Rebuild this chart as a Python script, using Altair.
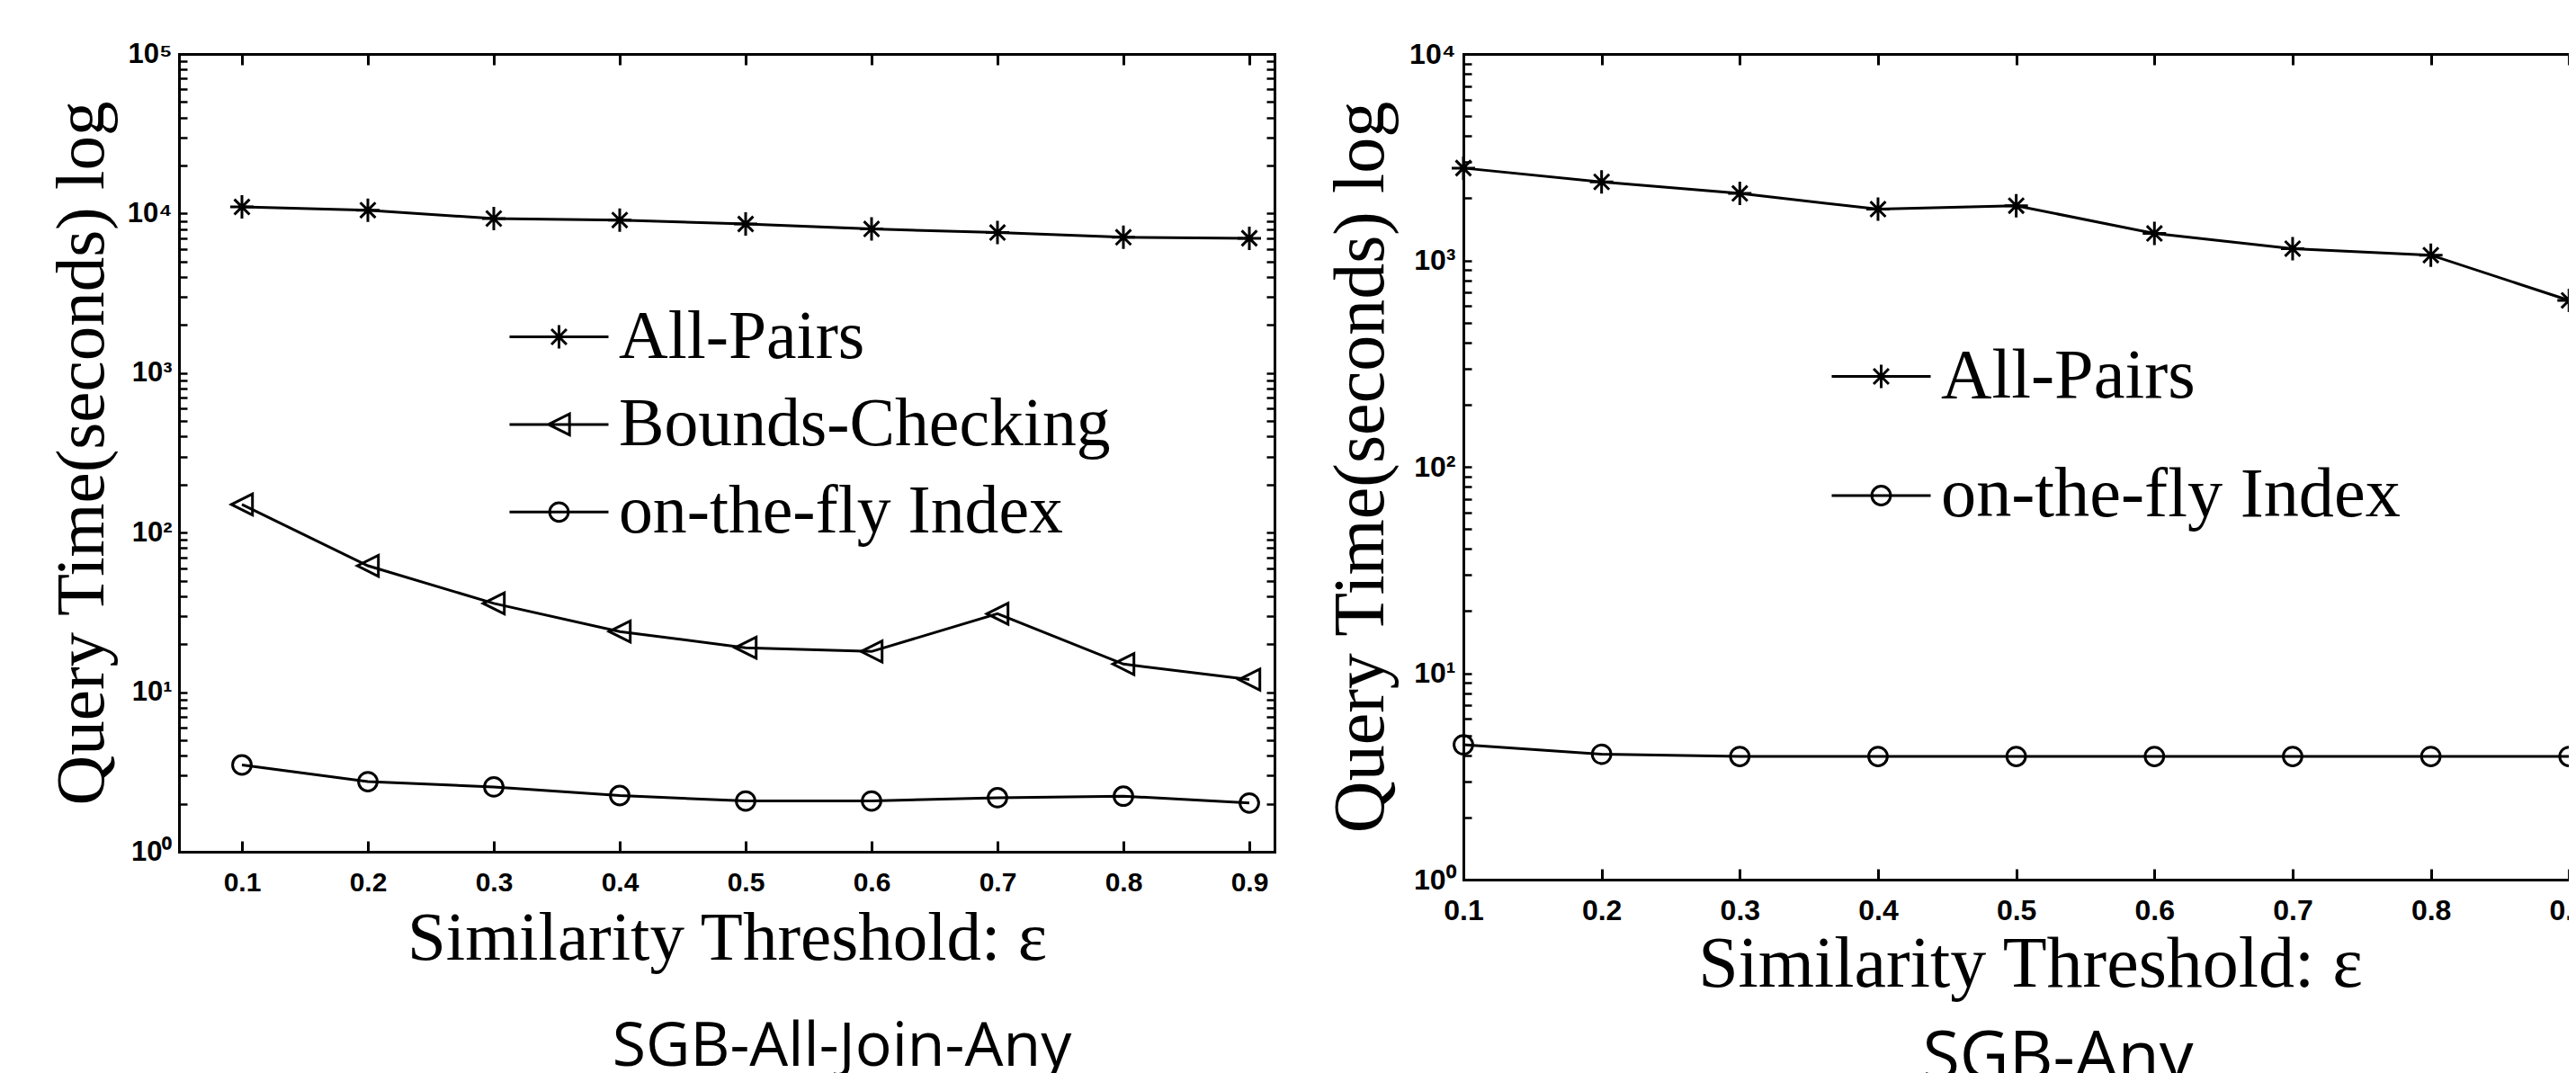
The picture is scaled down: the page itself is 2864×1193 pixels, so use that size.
import altair as alt
import pandas as pd

# ---------------- data ----------------
x_vals = [0.1, 0.2, 0.3, 0.4, 0.5, 0.6, 0.7, 0.8, 0.9]

left_series = ["All-Pairs", "Bounds-Checking", "on-the-fly Index"]
left_all_pairs = [11000, 10500, 9300, 9100, 8600, 8000, 7600, 7100, 7000]
left_bounds = [150, 62, 36, 24, 19, 18, 31, 15, 12]
left_index = [3.5, 2.75, 2.55, 2.25, 2.08, 2.08, 2.18, 2.23, 2.02]

right_series = ["All-Pairs", "on-the-fly Index"]
right_all_pairs = [2800, 2400, 2110, 1770, 1840, 1350, 1140, 1060, 640]
right_index = [4.5, 4.05, 3.95, 3.95, 3.95, 3.95, 3.95, 3.95, 3.95]

y_major = [1, 10, 100, 1000, 10000, 100000]
y_major_labels = ["10⁰", "10¹", "10²", "10³", "10⁴", "10⁵"]
minor_mult = [2, 3, 4, 5, 6, 7, 8, 9]

# ---------------- marker shapes (unit paths) ----------------
STAR = "M-1,0L1,0M0,-1L0,1M-0.65,-0.65L0.65,0.65M-0.65,0.65L0.65,-0.65"
TRI = "M-0.9,0L0.9,-0.9L0.9,0.9Z"
CIRC = "M0.8,0A0.8,0.8,0,1,1,-0.8,0A0.8,0.8,0,1,1,0.8,0Z"
k = 13 / 55.0
LSTAR = ("M-1,0L1,0M0,-{a}L0,{a}M-{b},-{b}L{b},{b}M-{b},{b}L{b},-{b}"
         .format(a=round(k, 4), b=round(0.65 * k, 4)))
LTRI = "M-1,0L1,0M-{a},0L{a},-{a}L{a},{a}Z".format(a=round(0.9 * k, 4))
LCIRC = "M-1,0L1,0M{r},0A{r},{r},0,1,1,-{r},0A{r},{r},0,1,1,{r},0Z".format(r=round(0.8 * k, 4))

marker_of = {"All-Pairs": STAR, "Bounds-Checking": TRI, "on-the-fly Index": CIRC}
legend_of = {"All-Pairs": LSTAR, "Bounds-Checking": LTRI, "on-the-fly Index": LCIRC}


def long_df(series, columns):
    rows = []
    for name, vals in zip(series, columns):
        for xv, v in zip(x_vals, vals):
            rows.append({"x": xv, "value": v, "series": name})
    return pd.DataFrame(rows)


def y_ticks(top):
    vals = []
    for m in y_major:
        if m <= top:
            vals.append(m)
        if m < top:
            vals += [m * t for t in minor_mult]
    return sorted(vals)


label_expr = ""
for v, lab in zip(y_major, y_major_labels):
    label_expr += "datum.value == %d ? '%s' : " % (v, lab)
label_expr += "''"


def panel(df, series, xdomain, ytop, W, H, xtick_fs, ytick_fs, title_fs, ytitle_x, xtitle_y,
          xlab_pad, ylab_pad, leg_fs, leg_x, leg_y, leg_row, subtitle, sub_fs, sub_dx,
          sub_offset, right_axis):
    xs = alt.Scale(domain=xdomain, nice=False, zero=False)
    ys = alt.Scale(type="log", domain=[1, ytop], nice=False)
    yt = y_ticks(ytop)

    # tick/border axes (ticks pointing inward), no labels
    tick_x = dict(values=x_vals, labels=False, title=None, ticks=True, tickSize={"expr": "-12"},
                  tickWidth=3, tickColor="black", domain=True, domainWidth=3, domainColor="black",
                  domainCap="square", grid=False)
    tick_y = dict(values=yt, labels=False, title=None, ticks=True, tickSize={"expr": "-9"},
                  tickWidth=2.5, tickColor="black", domain=True, domainWidth=3, domainColor="black",
                  domainCap="square", grid=False)

    # label/title axes, no ticks and no domain
    lab_x = alt.Axis(orient="bottom", values=x_vals, format=".1f", ticks=False, domain=False,
                     grid=False, labelFont="Liberation Sans", labelFontWeight="bold",
                     labelFontSize=xtick_fs, labelColor="black", labelPadding=xlab_pad,
                     labelFlush=False, labelOverlap=False,
                     title="Similarity Threshold: ε", titleFont="Liberation Serif",
                     titleFontSize=title_fs, titleFontWeight="normal", titleColor="black",
                     titleBaseline="alphabetic", titleY=xtitle_y)
    lab_y = alt.Axis(orient="left", values=yt, labelExpr=label_expr, ticks=False, domain=False,
                     grid=False, labelFont="Liberation Sans", labelFontWeight="bold",
                     labelFontSize=ytick_fs, labelColor="black", labelPadding=ylab_pad,
                     labelFlush=False, labelOverlap=False,
                     title="Query Time(seconds) log", titleFont="Liberation Serif",
                     titleFontSize=title_fs, titleFontWeight="normal", titleColor="black",
                     titleAngle=270, titleBaseline="middle", titleX=ytitle_x)

    top_axis = alt.Axis(orient="top", **tick_x)
    bottom_ticks = alt.Axis(orient="bottom", **tick_x)
    left_ticks = alt.Axis(orient="left", **tick_y)
    if right_axis:
        r_axis = alt.Axis(orient="right", **tick_y)
    else:
        r_axis = alt.Axis(orient="right", values=yt, labels=False, title=None, ticks=False,
                          domain=False, grid=False)

    base = alt.Chart(df)
    lines = base.mark_line(color="black", strokeWidth=3).encode(
        x=alt.X("x:Q", scale=xs, axis=lab_x),
        y=alt.Y("value:Q", scale=ys, axis=lab_y),
        detail="series:N",
    )
    points = base.mark_point(filled=False, color="black", strokeWidth=3, size=676, opacity=1).encode(
        x=alt.X("x:Q", scale=xs, axis=top_axis),
        y=alt.Y("value:Q", scale=ys, axis=r_axis),
        shape=alt.Shape("series:N", scale=alt.Scale(domain=series, range=[marker_of[s] for s in series]),
                        legend=None),
    )
    leg = base.mark_point(filled=False, color="black", strokeWidth=3, opacity=1).encode(
        x=alt.X("x:Q", scale=xs, axis=bottom_ticks),
        y=alt.Y("value:Q", scale=ys, axis=left_ticks),
        shape=alt.Shape("series:N",
                        scale=alt.Scale(domain=series, range=[legend_of[s] for s in series]),
                        legend=alt.Legend(orient="none", legendX=leg_x, legendY=leg_y,
                                          direction="vertical", title=None,
                                          labelFont="Liberation Serif", labelFontSize=leg_fs,
                                          labelColor="black", labelLimit=3000, labelOffset=10,
                                          labelBaseline="middle", symbolSize=12100,
                                          symbolStrokeWidth=3, symbolStrokeColor="black",
                                          symbolFillColor="transparent", symbolOpacity=1,
                                          rowPadding=leg_row, padding=0, offset=0)),
    ).transform_filter("false")

    return alt.layer(lines, points, leg).resolve_scale(shape="independent").properties(
        width=W, height=H,
        title=alt.TitleParams(text=subtitle, orient="bottom", anchor="middle", frame="group",
                              font="Open Sans", fontSize=sub_fs, fontWeight="normal", color="black",
                              baseline="alphabetic", dx=sub_dx, offset=sub_offset),
    )


left = panel(long_df(left_series, [left_all_pairs, left_bounds, left_index]), left_series,
             [0.05, 0.92], 100000, 1218, 887, 30, 31, 77, -108, 119, 19, 8,
             75.7, 366, 258, 2.4, "SGB-All-Join-Any", 68, 128, 103.5, True)
right = panel(long_df(right_series, [right_all_pairs, right_index]), right_series,
              [0.1, 0.92], 10000, 1260, 918, 32, 32, 80, -114, 118, 19, 9,
              78.3, 408, 302, 37.5, "SGB-Any", 75.5, 31, 88, False)

chart = alt.hconcat(
    left, right, spacing=210, bounds="flush",
    padding={"left": 191, "top": 52, "right": 2657, "bottom": 1138},
    autosize=alt.AutoSizeParams(type="none"),
).resolve_scale(
    x="independent", y="independent", shape="independent"
).resolve_legend(shape="independent").configure_view(stroke=None).configure(background="white")

chart.save("out.html", embed_options={"renderer": "svg", "actions": False})
